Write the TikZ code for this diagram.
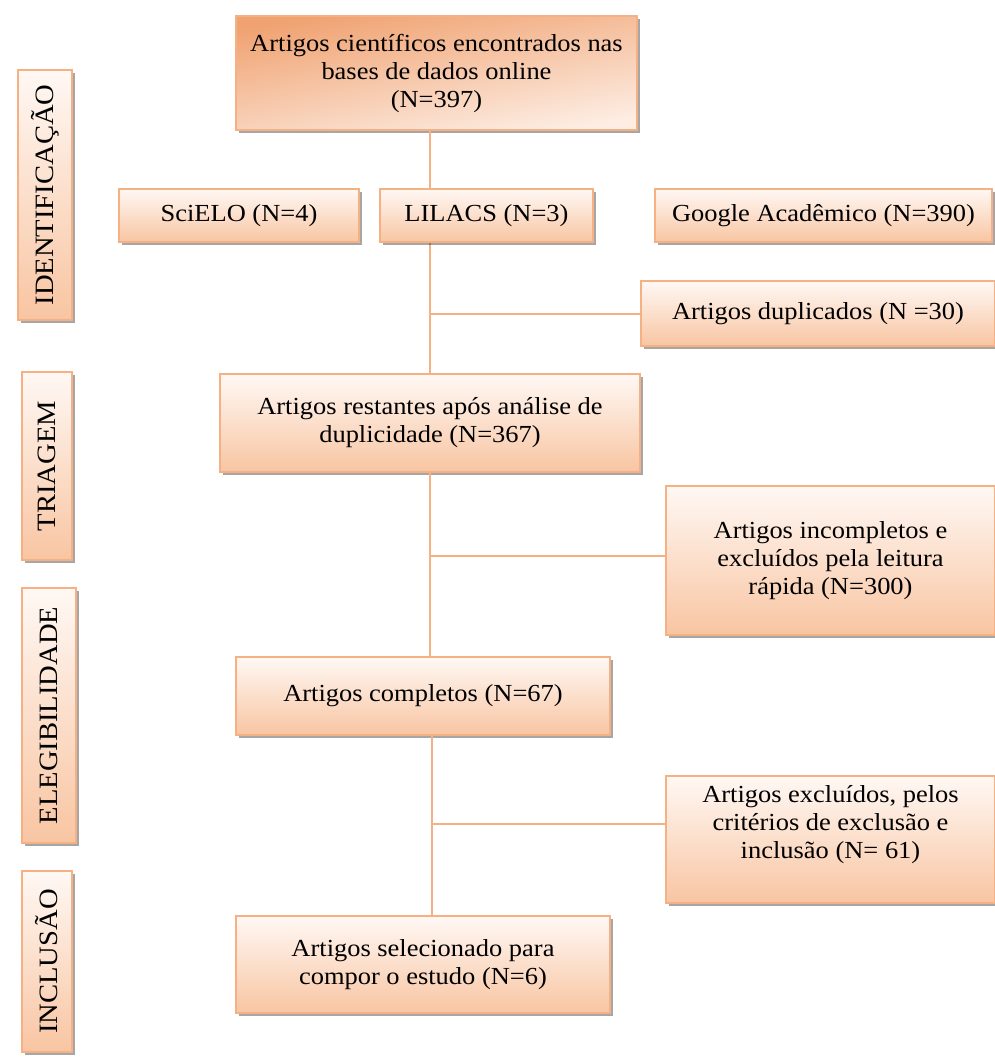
\documentclass[tikz,border=0pt]{standalone}
\usepackage{fontspec}
\setmainfont{Liberation Serif}[FakeStretch=1.08]
\usetikzlibrary{shadows}
\definecolor{bord}{HTML}{F5B083}
\definecolor{lite}{HTML}{FFF8F4}
\definecolor{peach}{HTML}{F8C5A2}
\definecolor{deep}{HTML}{F0A271}
\definecolor{pale}{HTML}{FDEDE3}
\tikzset{
  box/.style={draw=bord, line width=1.5pt, top color=lite, bottom color=peach,
    align=center, inner sep=2pt, font=\fontsize{24.5}{28}\selectfont,
    drop shadow={shadow xshift=3pt, shadow yshift=-3pt, fill=black, opacity=0.35}},
  topbox/.style={box, top color=deep, bottom color=pale, shading angle=10},
  side/.style={box, font=\fontsize{26.5}{28}\selectfont},
  link/.style={draw=bord, line width=2pt}
}
\begin{document}
\begin{tikzpicture}[x=1pt,y=-1pt]
\useasboundingbox (0,0) rectangle (995,1057);
\node[topbox, minimum width=401pt, minimum height=114pt] (top) at (436.5,73)
  {Artigos científicos encontrados nas\\bases de dados online\\(N=397)};
\node[box, minimum width=420pt, minimum height=98pt] (rest) at (430,423)
  {Artigos restantes após análise de\\duplicidade (N=367)};
\node[box, minimum width=354pt, minimum height=65pt] (dup) at (818,313.5)
  {Artigos duplicados (N =30)};
\node[box, minimum width=374pt, minimum height=78pt] (comp) at (423,696)
  {Artigos completos (N=67)};
\node[box, minimum width=329pt, minimum height=149pt] (inc) at (830.5,560.5)
  {Artigos incompletos e\\excluídos pela leitura\\rápida (N=300)};
\node[box, minimum width=374pt, minimum height=97pt] (sel) at (423,964.5)
  {Artigos selecionado para\\compor o estudo (N=6)};
\node[box, minimum width=329pt, minimum height=127pt] (exc) at (830.5,839.5)
  {Artigos excluídos, pelos\\critérios de exclusão e\\inclusão (N= 61)\\[-2pt]\strut};
% connectors
\draw[link] (top.south -| rest.north) -- (rest.north);
\draw[link] (rest.north |- dup.west) -- (dup.west);
\draw[link] (rest.south) -- (rest.south |- comp.north);
\draw[link] ([yshift=5pt]rest.south |- inc.west) -- ([yshift=5pt]inc.west);
\draw[link] ([xshift=2pt]rest.south |- comp.south) -- ([xshift=2pt]rest.south |- sel.north);
\draw[link] ([xshift=2pt,yshift=16pt]rest.south |- exc.west) -- ([yshift=16pt]exc.west);
% boxes on top of the line
\node[box, minimum width=240pt, minimum height=53pt] (sci) at (239,215.5) {SciELO (N=4)};
\node[box, minimum width=213pt, minimum height=53pt] (lil) at (486.5,215.5) {LILACS (N=3)};
\node[box, minimum width=337pt, minimum height=53pt] (goo) at (823.5,215.5) {Google Acadêmico (N=390)};
% side labels
\node[side, minimum width=54pt, minimum height=250pt] (sid) at (45,195) {\rotatebox{90}{IDENTIFICAÇÃO}};
\node[side, minimum width=50pt, minimum height=188pt] (stri) at (47,466) {\rotatebox{90}{TRIAGEM}};
\node[side, minimum width=54pt, minimum height=255pt] (sele) at (49,715.5) {\rotatebox{90}{ELEGIBILIDADE}};
\node[side, minimum width=50pt, minimum height=181pt] (sinc) at (47,961.5) {\rotatebox{90}{INCLUSÃO}};
\end{tikzpicture}
\end{document}
